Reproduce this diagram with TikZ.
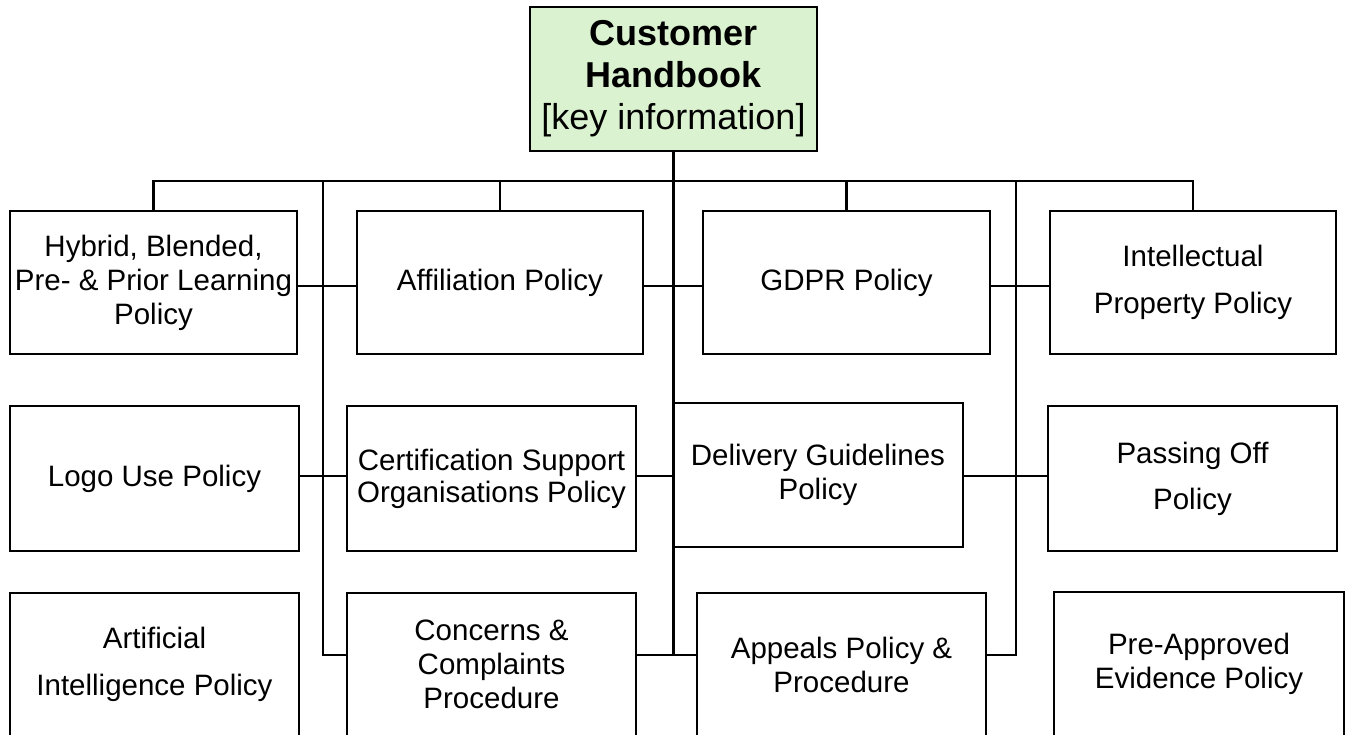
\documentclass[tikz,border=0pt]{standalone}
\usepackage{fontspec}
\setmainfont{Liberation Sans}
\usetikzlibrary{calc}
\definecolor{boxgreen}{HTML}{DAF2D0}
\begin{document}
\begin{tikzpicture}[x=1pt,y=-1pt,line width=2.2pt,
  box/.style={draw=black, rectangle, inner sep=0pt, align=center, text=black,
    font=\fontsize{29.5}{34}\selectfont},
  titlebox/.style={box, fill=boxgreen, font=\fontsize{36}{42}\selectfont},
  wire/.style={draw=black, line width=2.2pt}]
\useasboundingbox (0,0) rectangle (1347,735);
\clip (0,0) rectangle (1347,735);
\fill[white] (0,0) rectangle (1347,735);
% top
\node[titlebox, minimum width=287pt, minimum height=144pt] (top) at (673.5,79)
  {\textbf{Customer}\\\textbf{Handbook}\\{[key information]}};
% row 1
\node[box, minimum width=287pt, minimum height=143pt] (hyb) at (153.5,282.5)
  {Hybrid, Blended,\\Pre- \& Prior Learning\\Policy};
\node[box, minimum width=286pt, minimum height=143pt] (aff) at (500,282.5)
  {Affiliation Policy};
\node[box, minimum width=287pt, minimum height=143pt] (gdpr) at (846.5,282.5)
  {GDPR Policy};
\node[box, minimum width=286pt, minimum height=143pt] (ip) at (1193,282.5)
  {Intellectual\\[13pt]Property Policy};
% row 2
\node[box, minimum width=289pt, minimum height=145pt] (logo) at (154.5,478.5)
  {Logo Use Policy};
\node[box, minimum width=289pt, minimum height=145pt] (cert) at (491.5,478.5)
  {Certification Support\\[-2pt]Organisations Policy};
\node[box, minimum width=290pt, minimum height=144pt] (deliv) at (818,475)
  {Delivery Guidelines\\Policy};
\node[box, minimum width=289pt, minimum height=145pt] (pass) at (1192.5,478.5)
  {Passing Off\\[12pt]Policy};
% row 3
\node[box, minimum width=289pt, minimum height=143pt] (ai) at (154.5,664.5)
  {Artificial\\[13pt]Intelligence Policy};
\node[box, minimum width=289pt, minimum height=143pt] (conc) at (491.5,664.5)
  {Concerns \&\\Complaints\\Procedure};
\node[box, minimum width=289pt, minimum height=143pt] (app) at (841.5,664.5)
  {Appeals Policy \&\\Procedure};
\node[box, minimum width=290pt, minimum height=144pt] (pre) at (1199,664)
  {Pre-Approved\\Evidence Policy};
% coordinates
\coordinate (bus) at (0,181);
\coordinate (r1) at (0,286);
\coordinate (r2) at (0,476);
\coordinate (vL) at (323,181);
\coordinate (vLend) at (323,655);
\coordinate (vR) at (1016,181);
\coordinate (vRend) at (1016,655);
\coordinate (trunkend) at (673.5,655);
% bus and drops
\draw[wire] (hyb.north) -- (hyb.north |- bus) -- (ip.north |- bus) -- (ip.north);
\draw[wire] (aff.north) -- (aff.north |- bus);
\draw[wire] (gdpr.north) -- (gdpr.north |- bus);
\draw[wire] (top.south) -- (trunkend);
% side verticals
\draw[wire] (vL) -- (vLend) -- (vLend -| conc.west);
\draw[wire] (vR) -- (vRend) -- (vRend -| app.east);
% row connectors
\draw[wire] (hyb.east |- r1) -- (aff.west |- r1);
\draw[wire] (aff.east |- r1) -- (gdpr.west |- r1);
\draw[wire] (gdpr.east |- r1) -- (ip.west |- r1);
\draw[wire] (logo.east |- r2) -- (cert.west |- r2);
\draw[wire] (cert.east |- r2) -- (deliv.west |- r2);
\draw[wire] (deliv.east |- r2) -- (pass.west |- r2);
\draw[wire] (conc.east |- vLend) -- (app.west |- vLend);
\end{tikzpicture}
\end{document}
